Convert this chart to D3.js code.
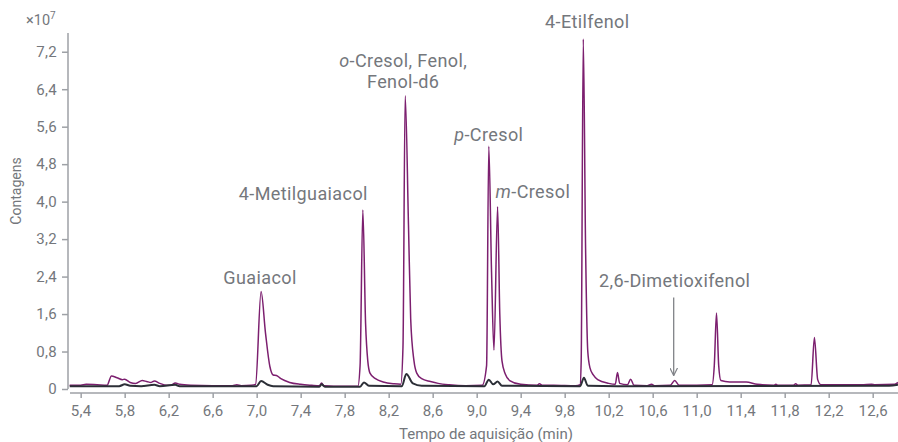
<!DOCTYPE html>
<html>
<head>
<meta charset="utf-8">
<script src="https://cdn.jsdelivr.net/npm/d3@7"></script>
<style>
  body { margin: 0; background: #fff; }
  svg { display: block; font-family: Roboto, "Noto Sans", sans-serif; }
</style>
</head>
<body>
<svg id="chart" width="898" height="442"></svg>
<script>
// purple trace (time in min, counts in 1e7)
let tempoRoxo = [5.30, 5.40, 5.45, 5.55, 5.64, 5.68, 5.73, 5.78, 5.80, 5.85, 5.90, 5.96, 6.00, 6.04, 6.07, 6.12, 6.18, 6.22, 6.26, 6.30,
  6.40, 6.60, 6.78, 6.82, 6.86, 6.95, 6.99, 7.04, 7.08, 7.12, 7.15, 7.18, 7.22, 7.30, 7.40, 7.50, 7.57, 7.59, 7.61, 7.70,
  7.92, 7.94, 7.965, 7.99, 8.01, 8.03, 8.08, 8.15, 8.25, 8.31, 8.33, 8.35, 8.38, 8.40, 8.43, 8.455, 8.50, 8.58, 8.65, 8.75,
  8.90, 9.05, 9.09, 9.11, 9.135, 9.157, 9.19, 9.21, 9.23, 9.26, 9.30, 9.40, 9.55, 9.57, 9.60, 9.70, 9.90, 9.94, 9.95, 9.969,
  9.99, 10.01, 10.03, 10.06, 10.10, 10.20, 10.26, 10.28, 10.30, 10.37, 10.40, 10.43, 10.55, 10.59, 10.62, 10.76, 10.80, 10.84, 11.00, 11.14,
  11.16, 11.18, 11.20, 11.22, 11.30, 11.45, 11.55, 11.70, 11.72, 11.74, 11.80, 11.88, 11.90, 11.92, 12.04, 12.07, 12.10, 12.13, 12.50, 12.59,
  12.62, 12.80, 12.83];
let sinalRoxo = [0.08, 0.08, 0.10, 0.09, 0.08, 0.28, 0.24, 0.20, 0.21, 0.14, 0.12, 0.18, 0.16, 0.14, 0.17, 0.12, 0.08, 0.08, 0.13, 0.10,
  0.08, 0.07, 0.07, 0.09, 0.07, 0.08, 0.10, 2.08, 1.20, 0.48, 0.30, 0.29, 0.22, 0.14, 0.10, 0.08, 0.07, 0.13, 0.07, 0.06,
  0.06, 0.50, 3.82, 1.40, 0.60, 0.34, 0.22, 0.15, 0.11, 0.10, 0.90, 6.26, 3.50, 1.50, 0.60, 0.34, 0.22, 0.16, 0.12, 0.09,
  0.07, 0.08, 0.50, 5.18, 2.50, 0.83, 3.89, 1.60, 0.60, 0.32, 0.18, 0.10, 0.08, 0.11, 0.08, 0.08, 0.07, 0.09, 0.60, 7.47,
  3.00, 0.80, 0.45, 0.30, 0.20, 0.12, 0.10, 0.35, 0.12, 0.09, 0.21, 0.08, 0.07, 0.10, 0.07, 0.08, 0.18, 0.08, 0.08, 0.09,
  0.50, 1.62, 0.50, 0.18, 0.15, 0.15, 0.10, 0.08, 0.10, 0.08, 0.08, 0.08, 0.11, 0.08, 0.09, 1.10, 0.20, 0.09, 0.09, 0.10,
  0.09, 0.10, 0.14];

// dark trace
let tempoPreto = [5.30, 5.75, 5.80, 5.85, 5.95, 6.07, 6.12, 6.26, 6.30, 7.00, 7.04, 7.10, 7.15, 7.57, 7.59, 7.62, 7.94, 7.975, 8.02, 8.32,
  8.36, 8.42, 8.50, 9.07, 9.11, 9.15, 9.19, 9.23, 9.94, 9.975, 10.01, 10.28, 12.75, 12.83];
let sinalPreto = [0.06, 0.06, 0.10, 0.07, 0.06, 0.09, 0.06, 0.09, 0.06, 0.06, 0.17, 0.09, 0.06, 0.05, 0.10, 0.05, 0.05, 0.14, 0.07, 0.06,
  0.32, 0.12, 0.07, 0.06, 0.20, 0.10, 0.16, 0.07, 0.06, 0.24, 0.07, 0.06, 0.07, 0.09];

let xTicks = [5.4, 5.8, 6.2, 6.6, 7.0, 7.4, 7.8, 8.2, 8.6, 9.0, 9.4, 9.8, 10.2, 10.6, 11.0, 11.4, 11.8, 12.2, 12.6];
let yTicks = [0, 0.8, 1.6, 2.4, 3.2, 4.0, 4.8, 5.6, 6.4, 7.2];

// peak labels: time, value of the peak
let picos = ["Guaiacol", "4-Metilguaiacol", "o-Cresol", "p-Cresol", "m-Cresol", "4-Etilfenol", "2,6-Dimetioxifenol"];
let picoTempo = [7.04, 7.965, 8.35, 9.11, 9.19, 9.969, 10.80];
let picoValor = [2.08, 3.82, 6.26, 5.18, 3.89, 7.47, 0.18];

let purple = "#7c1f6f";
let dark = "#2c2f37";
let axisColor = "#9ea1a6";
let textColor = "#74777c";

let svg = d3.select("#chart");

let x = d3.scaleLinear().domain([5.303, 12.83]).range([70, 898]);
let y = d3.scaleLinear().domain([0, 7.6]).range([389, 33]);

let fmt = d => d === 0 ? "0" : d3.format(".1f")(d).replace(".", ",");

// y axis
let yAxis = svg.append("g")
  .attr("transform", "translate(68,0)")
  .call(d3.axisLeft(y).tickValues(yTicks).tickFormat(fmt).tickSize(6).tickPadding(5));
yAxis.select(".domain").attr("stroke", axisColor).attr("stroke-width", 1.5).attr("d", "M0,33V389");
yAxis.selectAll(".tick line").attr("stroke", axisColor).attr("stroke-width", 1.5);
yAxis.selectAll(".tick text").style("font-size", "15px").style("fill", textColor).style("font-family", "Roboto")
  .style("letter-spacing", "0.3px");

// x axis
let xAxis = svg.append("g")
  .attr("transform", "translate(0,393)")
  .call(d3.axisBottom(x).tickValues(xTicks).tickFormat(fmt).tickSize(5).tickPadding(7));
xAxis.select(".domain").attr("stroke", axisColor).attr("stroke-width", 1.5).attr("d", "M70,0H898");
xAxis.selectAll(".tick line").attr("stroke", axisColor).attr("stroke-width", 1.5);
xAxis.selectAll(".tick text").style("font-size", "15px").style("fill", textColor).style("font-family", "Roboto")
  .style("letter-spacing", "0.3px");

// traces
let line = d3.line()
  .x(d => x(d[0]))
  .y(d => y(d[1]))
  .curve(d3.curveMonotoneX);

svg.append("path")
  .attr("d", line(d3.zip(tempoRoxo, sinalRoxo)))
  .attr("fill", "none")
  .attr("stroke", purple)
  .attr("stroke-width", 1.5)
  .attr("stroke-linejoin", "round");

svg.append("path")
  .attr("d", line(d3.zip(tempoPreto, sinalPreto)))
  .attr("fill", "none")
  .attr("stroke", dark)
  .attr("stroke-width", 2)
  .attr("stroke-linejoin", "round");

// axis titles
svg.append("text")
  .attr("transform", "translate(21,191) rotate(-90)")
  .attr("text-anchor", "middle")
  .style("font-size", "14px")
  .style("fill", textColor)
  .text("Contagens");

svg.append("text")
  .attr("x", 486)
  .attr("y", 439)
  .attr("text-anchor", "middle")
  .style("font-size", "15px")
  .style("fill", textColor)
  .text("Tempo de aquisição (min)");

let mult = svg.append("text")
  .attr("x", 26)
  .attr("y", 25)
  .style("font-size", "14.5px")
  .style("fill", textColor);
mult.append("tspan").text("×10");
mult.append("tspan").attr("dy", -6).style("font-size", "10px").text("7");

// peak labels
let lab = (i, dx, dy, anchor) => svg.append("text")
  .attr("x", x(picoTempo[i]) + dx)
  .attr("y", y(picoValor[i]) + dy)
  .attr("text-anchor", anchor)
  .style("font-size", "18px")
  .style("letter-spacing", "0.4px")
  .style("fill", textColor);

lab(0, -1, -8, "middle").text(picos[0]);
lab(1, 5, -10, "end").text(picos[1]);

let oc = lab(2, -2, -29, "middle");
oc.append("tspan").style("font-style", "italic").text("o");
oc.append("tspan").text("-Cresol, Fenol,");
lab(2, -2, -8, "middle").text("Fenol-d6");

let pc = lab(3, 0, -5, "middle");
pc.append("tspan").style("font-style", "italic").text("p");
pc.append("tspan").text("-Cresol");

let mc = lab(4, -2, -9, "start");
mc.append("tspan").style("font-style", "italic").text("m");
mc.append("tspan").text("-Cresol");

lab(5, 4, -11, "middle").text(picos[5]);
lab(6, 0, -94, "middle").text(picos[6]);

// arrow to the small peak
svg.append("defs").append("marker")
  .attr("id", "seta")
  .attr("viewBox", "0 0 10 10")
  .attr("refX", 10).attr("refY", 5)
  .attr("markerWidth", 8).attr("markerHeight", 8)
  .attr("markerUnits", "userSpaceOnUse")
  .attr("orient", "auto")
  .append("path")
  .attr("d", "M0,0L10,5L0,10")
  .attr("fill", "none")
  .attr("stroke", "#808388")
  .attr("stroke-width", 1.5);

svg.append("line")
  .attr("x1", x(picoTempo[6]) - 1).attr("x2", x(picoTempo[6]) - 1)
  .attr("y1", y(picoValor[6]) - 83)
  .attr("y2", y(picoValor[6]) - 5)
  .attr("stroke", "#808388")
  .attr("stroke-width", 1.3)
  .attr("marker-end", "url(#seta)");
</script>
</body>
</html>
